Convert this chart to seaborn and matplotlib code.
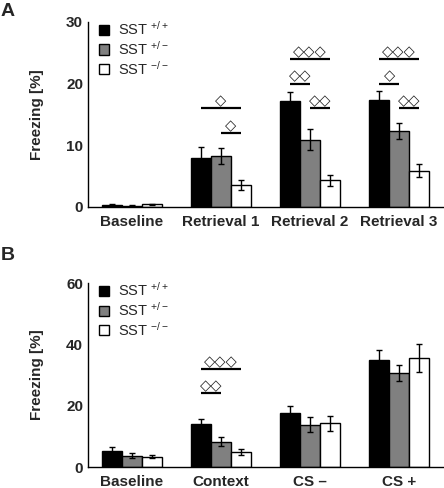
import matplotlib
matplotlib.use("Agg")
import matplotlib.pyplot as plt
import seaborn as sns
import pandas as pd

# Panel A: freezing during baseline and retrievals
phases_a = ['Baseline', 'Retrieval 1', 'Retrieval 2', 'Retrieval 3']
wt_a = [0.3, 7.9, 17.2, 17.3]
het_a = [0.2, 8.3, 10.9, 12.3]
ko_a = [0.4, 3.6, 4.3, 5.9]
wt_a_err = [0.1, 1.8, 1.4, 1.5]
het_a_err = [0.1, 1.3, 1.7, 1.3]
ko_a_err = [0.1, 0.8, 0.9, 1.1]

# Panel B: baseline, context, CS- and CS+
phases_b = ['Baseline', 'Context', 'CS \u2013', 'CS +']
wt_b = [5.2, 14.0, 17.6, 34.8]
het_b = [3.7, 8.2, 13.8, 30.6]
ko_b = [3.4, 4.8, 14.2, 35.5]
wt_b_err = [1.2, 1.8, 2.2, 3.3]
het_b_err = [0.8, 1.5, 2.4, 2.7]
ko_b_err = [0.6, 1.0, 2.3, 4.5]

genotypes = ['SST $^{+/+}$', 'SST $^{+/-}$', 'SST $^{-/-}$']
colors = ['#000000', '#808080', '#ffffff']

# significance: (group, bar from, bar to, height, symbols)
sig_a = [(1, 0, 2, 16, '\u25c7'), (1, 1, 2, 12, '\u25c7'),
         (2, 0, 2, 24, '\u25c7\u25c7\u25c7'), (2, 0, 1, 20, '\u25c7\u25c7'),
         (2, 1, 2, 16, '\u25c7\u25c7'),
         (3, 0, 2, 24, '\u25c7\u25c7\u25c7'), (3, 0, 1, 20, '\u25c7'),
         (3, 1, 2, 16, '\u25c7\u25c7')]
sig_b = [(1, 0, 2, 32, '\u25c7\u25c7\u25c7'), (1, 0, 1, 24, '\u25c7\u25c7')]

sns.set_style('white')
plt.rcParams['font.family'] = ['Liberation Sans', 'DejaVu Sans']
plt.rcParams['mathtext.fontset'] = 'custom'
plt.rcParams['mathtext.rm'] = 'Liberation Sans'
plt.rcParams['mathtext.it'] = 'Liberation Sans'


def panel(ax, phases, vals, errs, ymax, yticks, sigs):
    rows = []
    for g, v in zip(genotypes, vals):
        for p, y in zip(phases, v):
            rows.append({'phase': p, 'genotype': g, 'freezing': y})
    df = pd.DataFrame(rows)
    sns.barplot(data=df, x='phase', y='freezing', hue='genotype',
                order=phases, hue_order=genotypes, palette=colors,
                saturation=1, width=0.674, edgecolor='black', linewidth=1,
                errorbar=None, ax=ax)
    for cont, v, e in zip(ax.containers, vals, errs):
        xs = [b.get_x() + b.get_width() / 2 for b in cont]
        ax.errorbar(xs, v, yerr=e, fmt='none', ecolor='black',
                    elinewidth=1, capsize=2, capthick=1)
    for g, i, j, h, s in sigs:
        b1 = ax.containers[i][g]
        b2 = ax.containers[j][g]
        x1 = b1.get_x() + b1.get_width() / 2
        x2 = b2.get_x() + b2.get_width() / 2
        ax.plot([x1, x2], [h, h], color='black', lw=1.6, solid_capstyle='butt')
        ax.annotate(s, ((x1 + x2) / 2, h), xytext=(0, 0),
                    textcoords='offset points', ha='center', va='bottom',
                    fontsize=10.5, family='DejaVu Sans')
    ax.set_xlim(-0.494, 3.494)
    ax.set_ylim(0, ymax)
    ax.set_yticks(yticks)
    ax.set_xlabel('')
    ax.set_ylabel('Freezing [%]', fontsize=11, fontweight='bold', labelpad=16)
    ax.tick_params(axis='both', length=0, labelsize=11)
    ax.tick_params(axis='x', pad=5.5)
    ax.tick_params(axis='y', pad=3.5)
    for lab in ax.get_xticklabels() + ax.get_yticklabels():
        lab.set_fontweight('bold')
    sns.despine(ax=ax)
    for sp in ['left', 'bottom']:
        ax.spines[sp].set_color('black')
        ax.spines[sp].set_linewidth(1.0)
    handles, labels = ax.get_legend_handles_labels()
    ax.legend(handles, labels, loc='upper left', bbox_to_anchor=(0.03, 1.01),
              frameon=False, fontsize=10.5, handlelength=0.7, handleheight=0.7,
              handletextpad=0.6, labelspacing=0.12, borderaxespad=0,
              borderpad=0)


fig = plt.figure(figsize=(4.44, 4.88), dpi=100)
ax_a = fig.add_axes([0.198, 0.576, 0.800, 0.379])
ax_b = fig.add_axes([0.198, 0.043, 0.800, 0.377])

panel(ax_a, phases_a, [wt_a, het_a, ko_a], [wt_a_err, het_a_err, ko_a_err],
      30, [0, 10, 20, 30], sig_a)
panel(ax_b, phases_b, [wt_b, het_b, ko_b], [wt_b_err, het_b_err, ko_b_err],
      60, [0, 20, 40, 60], sig_b)

fig.text(0.002, 0.993, 'A', fontsize=14, fontweight='bold', va='top')
fig.text(0.002, 0.493, 'B', fontsize=14, fontweight='bold', va='top')

fig.savefig('out.png', dpi=100)
